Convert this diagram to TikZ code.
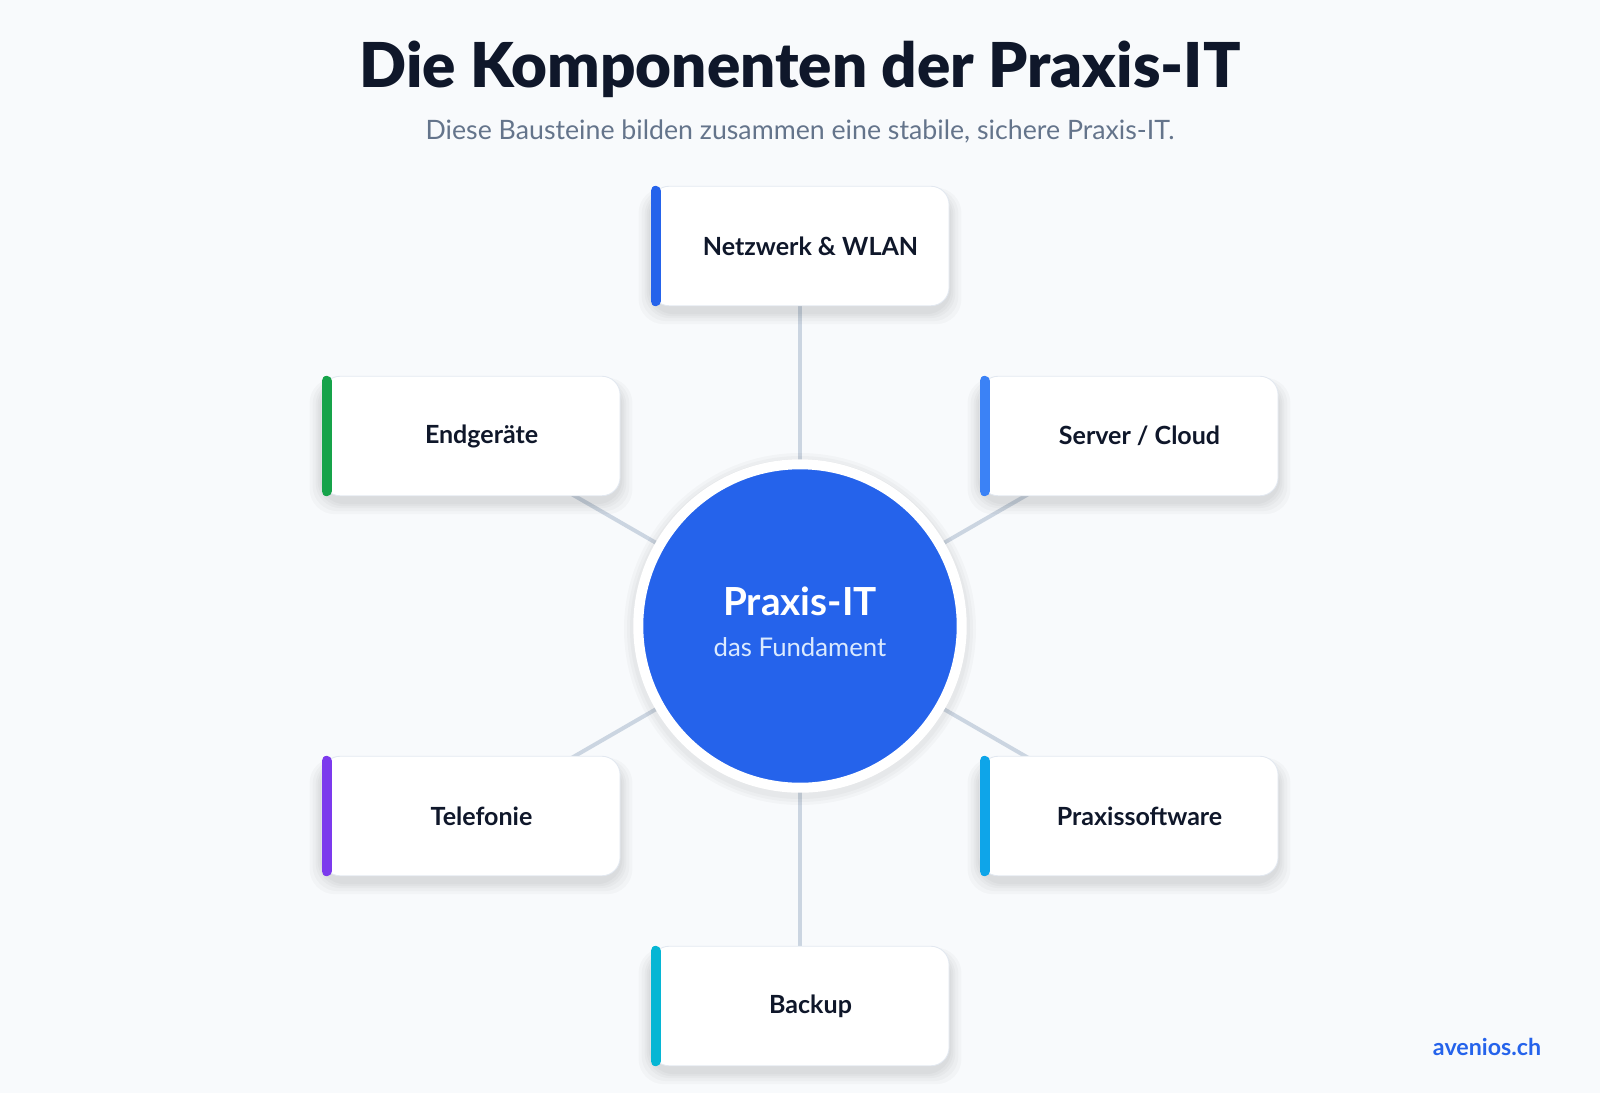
\documentclass[tikz,border=0pt]{standalone}
\usepackage{fontspec}
\setmainfont{Lato}
\newfontfamily\titlefont{Lato Black}
\usetikzlibrary{calc}
\definecolor{pagebg}{HTML}{F8FAFC}
\definecolor{ink}{HTML}{0F172A}
\definecolor{muted}{HTML}{64748B}
\definecolor{cardline}{HTML}{E2E8F0}
\definecolor{linkc}{HTML}{CBD5E1}
\definecolor{hubblue}{HTML}{2563EB}
\definecolor{hubsub}{HTML}{DBEAFE}
\definecolor{barnet}{HTML}{2563EB}
\definecolor{barend}{HTML}{16A34A}
\definecolor{barsrv}{HTML}{3B82F6}
\definecolor{bartel}{HTML}{7C3AED}
\definecolor{barsw}{HTML}{0EA5E9}
\definecolor{barbak}{HTML}{06B6D4}
\pgfdeclarelayer{canvas}
\pgfdeclarelayer{back}
\pgfsetlayers{canvas,back,main}
\tikzset{
  card/.style={rectangle, rounded corners=13pt, fill=white, draw=cardline, line width=0.6pt,
    minimum width=212pt, minimum height=85pt, text=ink,
    font=\bfseries\fontsize{17.8}{20}\selectfont, execute at begin node=\hspace{15pt}},
  bar/.style={line width=7.1pt, line cap=round},
  link/.style={draw=linkc, line width=2.8pt},
  soft/.style={black, opacity=0.022},
  hub/.style={circle, fill=hubblue, draw=white, line width=7.1pt, minimum size=230pt,
    align=center, text=white}
}
\begin{document}
\begin{tikzpicture}[x=0.025cm, y=-0.025cm]
  \begin{pgfonlayer}{canvas}
    \fill[pagebg] (0,0) rectangle (1600,1093);
  \end{pgfonlayer}
  \useasboundingbox (0,0) rectangle (1600,1093);

  % heading
  \node[anchor=base, text=ink, font=\titlefont\fontsize{44}{50}\selectfont] (title) at (800,87) {Die Komponenten der Praxis-IT};
  \node[anchor=base, text=muted, font=\fontsize{19}{23}\selectfont] (subtitle) at (800,139) {Diese Bausteine bilden zusammen eine stabile, sichere Praxis-IT.};

  % centre, with a soft shadow
  \coordinate (hubc) at (800,626);
  \foreach \r in {176,173,170}
    \fill[soft] ($(hubc)+(0,3)$) circle (\r);
  \node[hub] (hub) at (hubc) {};
  \node[anchor=base, text=white, font=\bfseries\fontsize{27.5}{31}\selectfont] (hubtitle) at (800,615) {Praxis-IT};
  \node[anchor=base, text=hubsub, font=\fontsize{18.3}{21}\selectfont] (hubsub) at (800,656) {das Fundament};

  % components
  \node[card] (net) at (800,246) {Netzwerk \& WLAN};
  \node[card] (end) at (471,436) {Endgeräte};
  \node[card] (srv) at (1129,436) {Server / Cloud};
  \node[card] (tel) at (471,816) {Telefonie};
  \node[card] (sw) at (1129,816) {Praxissoftware};
  \node[card] (bak) at (800,1006) {Backup};

  \foreach \n/\c in {net/barnet,end/barend,srv/barsrv,tel/bartel,sw/barsw,bak/barbak}
    \draw[bar,\c] ($(\n.north west)+(5,5)$) -- ($(\n.south west)+(5,-5)$);

  \begin{pgfonlayer}{back}
    \foreach \n in {net,end,srv,tel,sw,bak}
      \draw[link] (hub.center) -- (\n.center);
    % card shadows
    \foreach \n in {net,end,srv,tel,sw,bak}
      \foreach \s in {2,4,6,9,12}
        \fill[soft, rounded corners=18pt] ($(\n.north west)+(-\s,6-\s/3)$) rectangle ($(\n.south east)+(\s,6+\s)$);
  \end{pgfonlayer}

  \node[anchor=base east, text=hubblue, font=\bfseries\fontsize{16.5}{19}\selectfont] (brand) at (1546,1055) {avenios.ch};
\end{tikzpicture}
\end{document}
